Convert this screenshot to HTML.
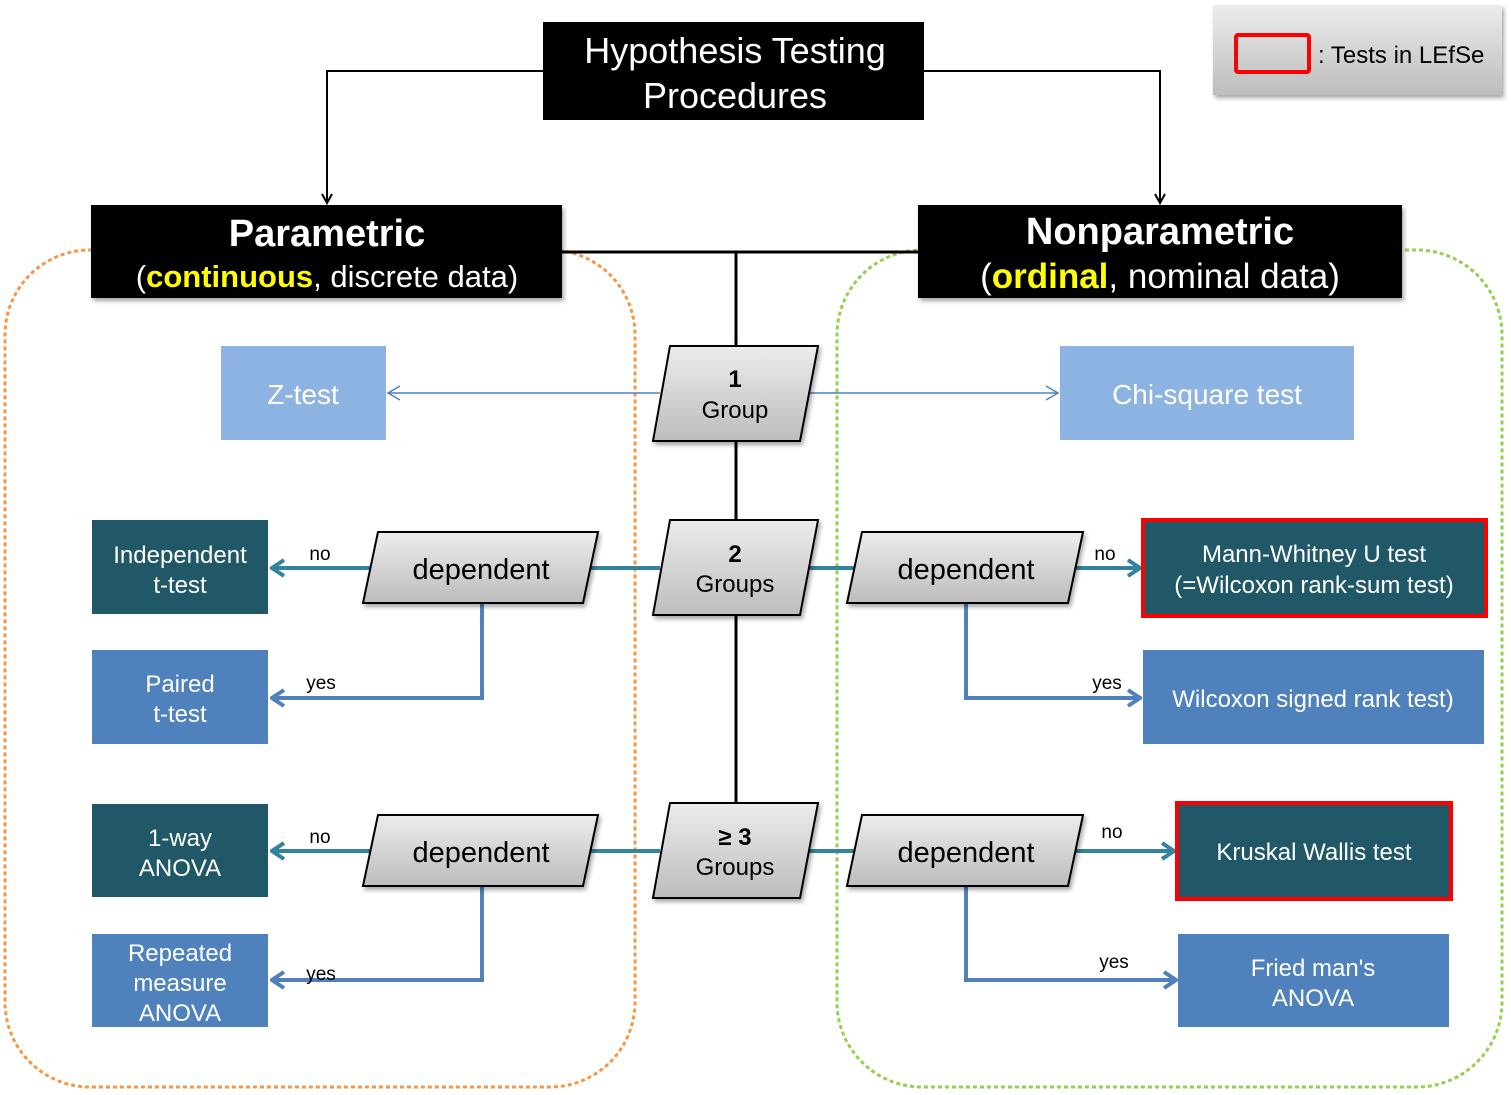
<!DOCTYPE html>
<html><head><meta charset="utf-8"><style>
body{margin:0;background:#fff;width:1511px;height:1090px;overflow:hidden}
svg text{font-family:"Liberation Sans","DejaVu Sans",sans-serif}
</style></head><body>
<svg width="1511" height="1090" viewBox="0 0 1511 1090" xmlns="http://www.w3.org/2000/svg">
<defs>
<linearGradient id="g" x1="0" y1="0" x2="0" y2="1"><stop offset="0" stop-color="#ececec"/><stop offset="1" stop-color="#bdbdbd"/></linearGradient>
<marker id="ab" markerWidth="12" markerHeight="12" refX="10" refY="6" orient="auto" markerUnits="userSpaceOnUse"><path d="M1,1 L10,6 L1,11" fill="none" stroke="#000" stroke-width="2"/></marker>
<marker id="at" markerWidth="16" markerHeight="20" refX="14" refY="10" orient="auto" markerUnits="userSpaceOnUse"><path d="M2,2 L14,10 L2,18" fill="none" stroke="#31849b" stroke-width="4"/></marker>
<marker id="abl" markerWidth="16" markerHeight="20" refX="14" refY="10" orient="auto" markerUnits="userSpaceOnUse"><path d="M2,2 L14,10 L2,18" fill="none" stroke="#4f81bd" stroke-width="4"/></marker>
<marker id="athin" markerWidth="16" markerHeight="16" refX="14" refY="8" orient="auto" markerUnits="userSpaceOnUse"><path d="M2,1 L14,8 L2,15" fill="none" stroke="#4f81bd" stroke-width="1.5"/></marker>
<filter id="sh"><feDropShadow dx="2" dy="3" stdDeviation="2" flood-opacity="0.35"/></filter>
</defs>

<!-- dashed groups -->
<rect x="5" y="250" width="630" height="837" rx="85" fill="none" stroke="#f79646" stroke-width="3" stroke-dasharray="4,3"/>
<rect x="837" y="250" width="665" height="837" rx="85" fill="none" stroke="#92d050" stroke-width="3" stroke-dasharray="4,3"/>

<!-- legend -->
<rect x="1213" y="5" width="289" height="90" fill="url(#g)" filter="url(#sh)"/>
<rect x="1236" y="35" width="73" height="37" fill="none" stroke="#f00" stroke-width="4" rx="2"/>
<text x="1318" y="63" font-size="24" fill="#000">: Tests in LEfSe</text>

<!-- top connectors -->
<polyline points="543,71 327,71 327,203" fill="none" stroke="#000" stroke-width="2" marker-end="url(#ab)"/>
<polyline points="924,71 1160,71 1160,203" fill="none" stroke="#000" stroke-width="2" marker-end="url(#ab)"/>
<line x1="562" y1="252" x2="918" y2="252" stroke="#000" stroke-width="3"/>
<line x1="736" y1="252" x2="736" y2="805" stroke="#000" stroke-width="3"/>

<!-- title -->
<rect x="543" y="22" width="381" height="98" fill="#000"/>
<text x="735" y="63" font-size="36" fill="#fff" text-anchor="middle">Hypothesis Testing</text>
<text x="735" y="108" font-size="36" fill="#fff" text-anchor="middle">Procedures</text>

<rect x="91" y="205" width="471" height="93" fill="#000" filter="url(#sh)"/>
<text x="327" y="246" font-size="38" font-weight="bold" fill="#fff" text-anchor="middle">Parametric</text>
<text x="327" y="287" font-size="31" fill="#fff" text-anchor="middle">(<tspan fill="#ff0" font-weight="bold">continuous</tspan>, discrete data)</text>

<rect x="918" y="205" width="484" height="93" fill="#000" filter="url(#sh)"/>
<text x="1160" y="244" font-size="38" font-weight="bold" fill="#fff" text-anchor="middle">Nonparametric</text>
<text x="1160" y="288" font-size="35" fill="#fff" text-anchor="middle">(<tspan fill="#ff0" font-weight="bold">ordinal</tspan>, nominal data)</text>

<!-- 1 group row -->
<line x1="660" y1="393" x2="388" y2="393" stroke="#4f81bd" stroke-width="1.5" marker-end="url(#athin)"/>
<line x1="805" y1="393" x2="1058" y2="393" stroke="#4f81bd" stroke-width="1.5" marker-end="url(#athin)"/>
<rect x="221" y="346" width="165" height="94" fill="#8db3e2"/>
<text x="303" y="404" font-size="28" fill="#fff" text-anchor="middle">Z-test</text>
<rect x="1060" y="346" width="294" height="94" fill="#8db3e2"/>
<text x="1207" y="404" font-size="28" fill="#fff" text-anchor="middle">Chi-square test</text>

<!-- teal / blue connectors rows -->
<g stroke-width="4" fill="none">
<line x1="660" y1="568" x2="272" y2="568" stroke="#31849b" marker-end="url(#at)"/>
<line x1="805" y1="568" x2="1140" y2="568" stroke="#31849b" marker-end="url(#at)"/>
<polyline points="482,603 482,698 272,698" stroke="#4f81bd" marker-end="url(#abl)"/>
<polyline points="966,603 966,698 1140,698" stroke="#4f81bd" marker-end="url(#abl)"/>
<line x1="660" y1="851" x2="272" y2="851" stroke="#31849b" marker-end="url(#at)"/>
<line x1="805" y1="851" x2="1174" y2="851" stroke="#31849b" marker-end="url(#at)"/>
<polyline points="482,886 482,980 272,980" stroke="#4f81bd" marker-end="url(#abl)"/>
<polyline points="966,886 966,980 1176,980" stroke="#4f81bd" marker-end="url(#abl)"/>
</g>

<!-- central parallelograms -->
<g stroke="#000" stroke-width="2" fill="url(#g)" filter="url(#sh)">
<polygon points="670,346 818,346 800,441 653,441"/>
<polygon points="670,520 818,520 800,615 653,615"/>
<polygon points="670,803 818,803 800,898 653,898"/>
<polygon points="378,532 598,532 583,603 363,603"/>
<polygon points="862,532 1083,532 1068,603 847,603"/>
<polygon points="378,815 598,815 583,886 363,886"/>
<polygon points="862,815 1083,815 1068,886 847,886"/>
</g>
<g font-size="24" fill="#000" text-anchor="middle">
<text x="735" y="387" font-weight="bold">1</text><text x="735" y="418">Group</text>
<text x="735" y="562" font-weight="bold">2</text><text x="735" y="592">Groups</text>
<text x="735" y="845" font-weight="bold">≥ 3</text><text x="735" y="875">Groups</text>
<text x="481" y="579" font-size="29">dependent</text>
<text x="966" y="579" font-size="29">dependent</text>
<text x="481" y="862" font-size="29">dependent</text>
<text x="966" y="862" font-size="29">dependent</text>
</g>
<g font-size="19" fill="#000" text-anchor="middle">
<text x="320" y="560">no</text><text x="321" y="689">yes</text>
<text x="320" y="843">no</text><text x="321" y="980">yes</text>
<text x="1105" y="560">no</text><text x="1107" y="689">yes</text>
<text x="1112" y="838">no</text><text x="1114" y="968">yes</text>
</g>

<!-- result boxes -->
<rect x="92" y="520" width="176" height="94" fill="#215868"/>
<rect x="92" y="650" width="176" height="94" fill="#4f81bd"/>
<rect x="92" y="804" width="176" height="93" fill="#215868"/>
<rect x="92" y="934" width="176" height="93" fill="#4f81bd"/>
<rect x="1143" y="520" width="343" height="96" fill="#215868" stroke="#f00" stroke-width="4"/>
<rect x="1143" y="650" width="341" height="94" fill="#4f81bd"/>
<rect x="1177" y="803" width="274" height="96" fill="#215868" stroke="#f00" stroke-width="4"/>
<rect x="1178" y="934" width="271" height="93" fill="#4f81bd"/>
<g font-size="24" fill="#fff" text-anchor="middle">
<text x="180" y="563">Independent</text><text x="180" y="593">t-test</text>
<text x="180" y="692">Paired</text><text x="180" y="722">t-test</text>
<text x="180" y="846">1-way</text><text x="180" y="876">ANOVA</text>
<text x="180" y="961">Repeated</text><text x="180" y="991">measure</text><text x="180" y="1021">ANOVA</text>
<text x="1314" y="562">Mann-Whitney U test</text><text x="1314" y="593">(=Wilcoxon rank-sum test)</text>
<text x="1313" y="707">Wilcoxon signed rank test)</text>
<text x="1314" y="860">Kruskal Wallis test</text>
<text x="1313" y="976">Fried man's</text><text x="1313" y="1006">ANOVA</text>
</g>
</svg>
</body></html>
